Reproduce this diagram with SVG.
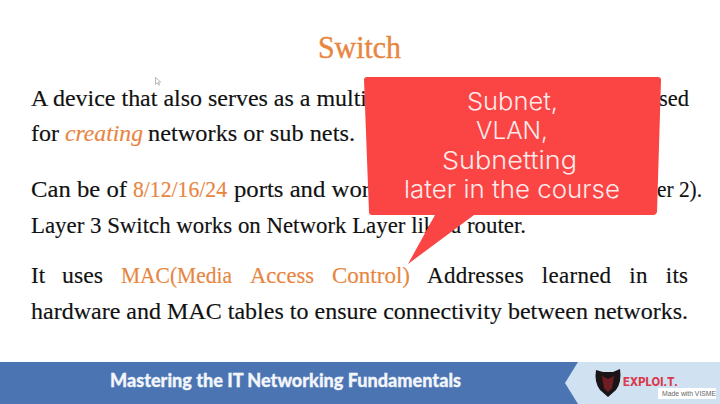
<svg xmlns="http://www.w3.org/2000/svg" width="720" height="404" viewBox="0 0 720 404">
<style>
.b{font-family:"Liberation Serif",serif;font-size:23px;fill:#111;stroke:#111;stroke-width:.15px}
.o{fill:#e8853f;stroke:#e8853f}
.c{font-family:Inter,"Open Sans",sans-serif;font-size:24.500px;fill:#fdeaea;text-anchor:middle;font-weight:300}
</style>
<rect width="720" height="404" fill="#fff"/>
<g id="body-text">
<text x="318" y="58" font-family="Liberation Serif,serif" font-size="31" fill="#e8853f" stroke="#e8853f" stroke-width=".4" textLength="83" lengthAdjust="spacingAndGlyphs">Switch</text>
<path d="M155.500 77.500v7l1.800-1.700 1.500 2.500.9-.6-1.300-2.500 2.200-.2z" fill="#fff" stroke="#999" stroke-width=".7"/>
<text class="b" x="31" y="106" textLength="336" lengthAdjust="spacingAndGlyphs">A device that also serves as a multi</text>
<text class="b" x="659" y="106" textLength="30" lengthAdjust="spacingAndGlyphs">sed</text>
<text class="b" x="31" y="141" textLength="28" lengthAdjust="spacingAndGlyphs">for</text>
<text class="b o" x="65" y="141" font-style="italic" textLength="78" lengthAdjust="spacingAndGlyphs">creating</text>
<text class="b" x="148" y="141" textLength="207" lengthAdjust="spacingAndGlyphs">networks or sub nets.</text>
<text class="b" x="31" y="197" textLength="96" lengthAdjust="spacingAndGlyphs">Can be of</text>
<text class="b o" x="133" y="197" textLength="94" lengthAdjust="spacingAndGlyphs">8/12/16/24</text>
<text class="b" x="234" y="197" textLength="136" lengthAdjust="spacingAndGlyphs">ports and wor</text>
<text class="b" x="657" y="197" textLength="45" lengthAdjust="spacingAndGlyphs">er 2).</text>
<text class="b" x="31" y="233" textLength="495" lengthAdjust="spacingAndGlyphs">Layer 3 Switch works on Network Layer like a router.</text>
<text class="b" x="31" y="283">It</text>
<text class="b" x="62" y="283" textLength="41" lengthAdjust="spacingAndGlyphs">uses</text>
<text class="b o" x="121" y="283" textLength="111" lengthAdjust="spacingAndGlyphs">MAC(Media</text>
<text class="b o" x="250" y="283" textLength="64" lengthAdjust="spacingAndGlyphs">Access</text>
<text class="b o" x="332" y="283" textLength="78" lengthAdjust="spacingAndGlyphs">Control)</text>
<text class="b" x="427" y="283" textLength="261" word-spacing="12" lengthAdjust="spacing">Addresses learned in its</text>
<text class="b" x="31" y="319" textLength="657" lengthAdjust="spacingAndGlyphs">hardware and MAC tables to ensure connectivity between networks.</text>
</g>
<g id="callout">
<path d="M367 77H658Q661 77 661 80L657 212Q656 215 653 215H474L408 264L435 215H372Q369 215 369 212L364 80Q364 77 367 77Z" fill="#fb4444"/>
<text class="c" x="512.500" y="110" textLength="91" lengthAdjust="spacingAndGlyphs">Subnet,</text>
<text class="c" x="512" y="139" textLength="72" lengthAdjust="spacingAndGlyphs">VLAN,</text>
<text class="c" x="509.500" y="169" textLength="135" lengthAdjust="spacingAndGlyphs">Subnetting</text>
<text class="c" x="512" y="198" textLength="216" lengthAdjust="spacingAndGlyphs">later in the course</text>
</g>
<g id="footer">
<rect y="362" width="720" height="42" fill="#4b74b3"/>
<path d="M578 362H720V404H578L565 383Z" fill="#d0e2f2"/>
<text x="110" y="387" font-family="Lato,sans-serif" font-weight="900" font-size="18" fill="#f2f5fa" stroke="#f2f5fa" stroke-width=".3" textLength="351" lengthAdjust="spacingAndGlyphs">Mastering the IT Networking Fundamentals</text>
<path d="M596 370L603 372H613L620 369Q622 382 616 390L608 397L600 390Q594 382 596 370Z" fill="#1b1416"/>
<path d="M602 376L608 379L614 376L612 388L608 392L604 388Z" fill="#6e1d22"/>
<text x="623" y="386" font-family="Inter,sans-serif" font-weight="800" font-size="11.500" fill="#d93a4e" textLength="55" lengthAdjust="spacingAndGlyphs">EXPLOI.T.</text>
<rect x="658" y="388" width="58" height="11" fill="#fff"/>
<text x="662" y="396" font-family="Liberation Sans,sans-serif" font-size="6.800" fill="#666">Made with VISME</text>
</g>
</svg>
